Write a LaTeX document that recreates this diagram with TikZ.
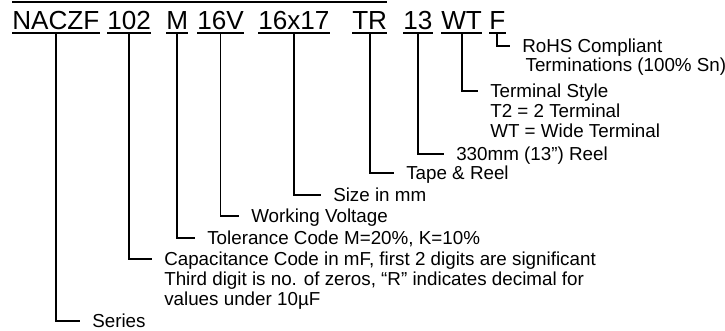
\documentclass[tikz,border=0pt]{standalone}
\usepackage{fontspec}
\setmainfont{Liberation Sans}
\usetikzlibrary{positioning}

\begin{document}
\begin{tikzpicture}[
    x=0.75pt, y=-0.75pt,
    part/.style={anchor=south west, inner xsep=0pt, inner ysep=2.25pt, text height=14pt, text depth=0pt, font=\fontsize{19.6}{22}\selectfont},
    lbl/.style={anchor=west, inner xsep=9pt, inner ysep=0pt, text height=10pt, text depth=0pt, font=\fontsize{14.1}{15}\selectfont},
    uline/.style={line width=1pt},
    link/.style={line width=1.4pt}
]
    \useasboundingbox (0,0) rectangle (725,331);

    \node[part] (naczf) at (12,33) {NACZF};
    \node[part] (c102) at (107,33) {102};
    \node[part] (m) at (166,33) {M};
    \node[part] (v16) at (197,33) {16V};
    \node[part] (s1617) at (258,33) {16x17};
    \node[part] (tr) at (352,33) {TR};
    \node[part] (r13) at (403,33) {13};
    \node[part] (wt) at (441,33) {WT};
    \node[part] (f) at (489,33) {F};

    \draw[uline] (naczf.west |- 0,2) -- (tr.east |- 0,2);
    \foreach \p in {naczf,c102,m,v16,s1617,tr,r13,wt,f}
        \draw[uline] (\p.south west) -- (\p.south east);

    \node[lbl] (rohs) at (510,46) {RoHS Compliant};
    \node[lbl, below=14pt of rohs.west, anchor=west, xshift=2.5pt] (rohs2) {Terminations (100\% Sn)};
    \node[lbl] (terminal) at (478,91) {Terminal Style};
    \node[lbl, below=15pt of terminal.west, anchor=west] (terminal2) {T2 = 2 Terminal};
    \node[lbl, below=15pt of terminal2.west, anchor=west] (terminal3) {WT = Wide Terminal};
    \node[lbl] (reel) at (444,154) {330mm (13”) Reel};
    \node[lbl] (tape) at (394,173) {Tape \& Reel};
    \node[lbl] (size) at (321,195) {Size in mm};
    \node[lbl] (voltage) at (239,216) {Working Voltage};
    \node[lbl] (tolerance) at (195,238) {Tolerance Code M=20\%, K=10\%};
    \node[lbl] (capacitance) at (152,259) {Capacitance Code in mF, first 2 digits are significant};
    \node[lbl, below=15pt of capacitance.west, anchor=west] (capacitance2) {Third digit is no. of zeros, “R” indicates decimal for};
    \node[lbl, below=15pt of capacitance2.west, anchor=west] (capacitance3) {values under 10µF};
    \node[lbl] (series) at (80,321) {Series};

    \draw[link] (f.south) |- (rohs.west);
    \draw[link] (wt.south) |- (terminal.west);
    \draw[link] (r13.south) |- (reel.west);
    \draw[link] (tr.south) |- (tape.west);
    \draw[link] (s1617.south) |- (size.west);
    \draw[link] (v16.south) |- (voltage.west);
    \draw[link] (m.south) |- (tolerance.west);
    \draw[link] (c102.south) |- (capacitance.west);
    \draw[link] (naczf.south) |- (series.west);
\end{tikzpicture}
\end{document}
